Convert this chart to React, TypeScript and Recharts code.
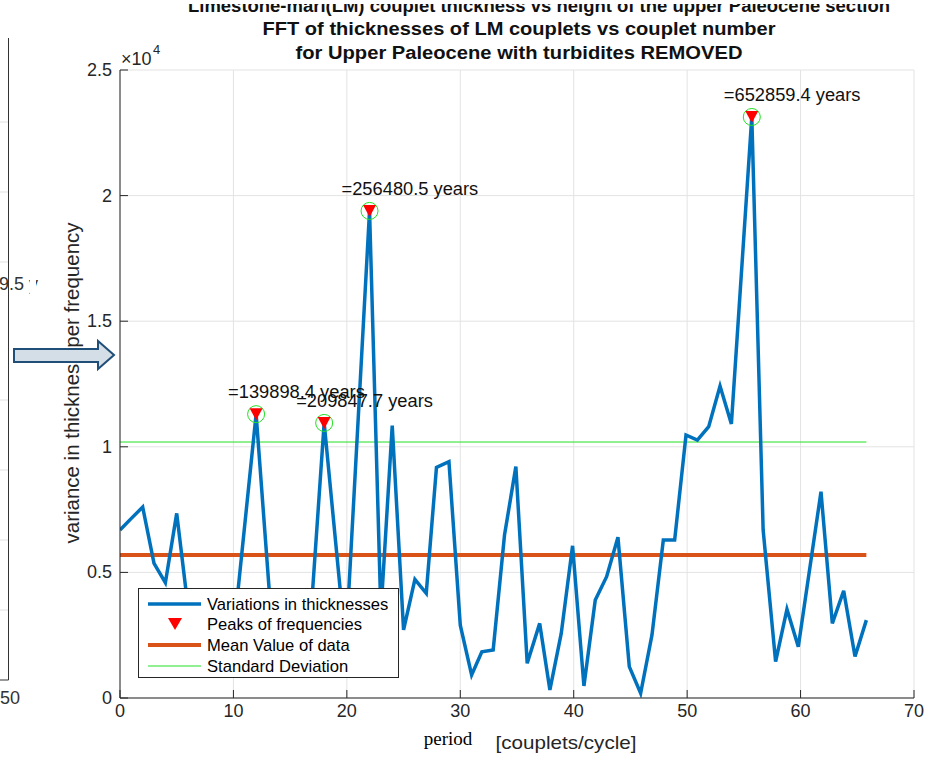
import React from 'react';
import {
  ComposedChart,
  Line,
  Scatter,
  XAxis,
  YAxis,
  CartesianGrid,
  Legend,
} from 'recharts';

// Period (couplets/cycle) and variance of each FFT sample
const periods = [
  0, 1, 2, 3, 4, 5, 6, 7, 8, 9, 10, 12, 13.4, 14.5, 15.5, 16.5, 18, 19.9, 22, 23,
  24, 25, 26, 27, 27.9, 29, 30, 31, 31.9, 32.9, 33.9, 34.9, 35.9, 37, 37.9, 38.9,
  39.9, 40.9, 41.9, 42.9, 43.9, 44.9, 45.9, 46.9, 47.9, 48.9, 49.9, 50.9, 51.9,
  52.9, 53.9, 55.7, 56.7, 57.8, 58.8, 59.8, 61.8, 62.8, 63.8, 64.8, 65.8,
];
const variance = [
  6690, 7150, 7600, 5360, 4590, 7350, 3590, 1900, 2600, 1800, 2500, 11300, 2800,
  1800, 3000, 1150, 10950, 2030, 19390, 3400, 10840, 2710, 4720, 4170, 9180, 9410,
  2900, 920, 1840, 1910, 6490, 9210, 1380, 2970, 320, 2570, 6060, 480, 3900, 4830,
  6400, 1250, 190, 2510, 6290, 6290, 10470, 10270, 10800, 12420, 10910, 23130, 6690,
  1450, 3530, 2040, 8210, 2970, 4270, 1650, 3100,
];

// Detected peaks and their periods in years
const peakPeriods = [12, 18, 22, 55.7];
const peakVariance = [11300, 10950, 19390, 23130];
const peakLabels = ['=139898.4 years', '=209847.7 years', '=256480.5 years', '=652859.4 years'];

const meanValue = 5690;
const stdDevValue = 10190;
const firstPeriod = 0;
const lastPeriod = 65.8;

const xTicks = [0, 10, 20, 30, 40, 50, 60, 70];
const yTicks = [0, 5000, 10000, 15000, 20000, 25000];

const seriesData = periods.map((p, i) => ({ x: p, v: variance[i] }));
const peakData = peakPeriods.map((p, i) => ({ x: p, v: peakVariance[i], label: peakLabels[i] }));
const meanData = [
  { x: firstPeriod, v: meanValue },
  { x: lastPeriod, v: meanValue },
];
const stdData = [
  { x: firstPeriod, v: stdDevValue },
  { x: lastPeriod, v: stdDevValue },
];

const FONT = '"Liberation Sans", Arial, Helvetica, sans-serif';
const AXIS = '#262626';
const BLUE = '#0072BD';
const ORANGE = '#D95319';
const GREEN = '#22E022';

const XTick = (props: any) => {
  const { x, y, payload } = props;
  return (
    <g>
      <line x1={x} x2={x} y1={y} y2={y - 8} stroke={AXIS} strokeWidth={1} />
      <text x={x} y={y + 19} textAnchor="middle" fontFamily={FONT} fontSize={18} fill={AXIS}>
        {payload.value}
      </text>
    </g>
  );
};

const YTick = (props: any) => {
  const { x, y, payload } = props;
  return (
    <g>
      <line x1={x} x2={x + 8} y1={y} y2={y} stroke={AXIS} strokeWidth={1} />
      <text x={x - 8} y={y + 6} textAnchor="end" fontFamily={FONT} fontSize={18} fill={AXIS}>
        {String(payload.value / 10000)}
      </text>
    </g>
  );
};

const PeakShape = (props: any) => {
  const { cx, cy, payload } = props;
  return (
    <g>
      <circle cx={cx} cy={cy} r={8.5} fill="none" stroke={GREEN} strokeWidth={1} />
      <path d={`M${cx - 6.5},${cy - 6} L${cx + 6.5},${cy - 6} L${cx},${cy + 6} Z`} fill="#FF0000" />
      <text x={cx - 28} y={cy - 16} fontFamily={FONT} fontSize={18.3} fill="#111">
        {payload.label}
      </text>
    </g>
  );
};

const LegendBox = () => {
  const rows = [
    { y: 15, text: 'Variations in thicknesses' },
    { y: 35, text: 'Peaks of frequencies' },
    { y: 56, text: 'Mean Value of data' },
    { y: 77, text: 'Standard Deviation' },
  ];
  return (
    <div
      style={{
        width: 261,
        height: 90,
        background: '#fff',
        border: `1px solid ${AXIS}`,
        boxSizing: 'border-box',
      }}
    >
      <svg width={259} height={88} style={{ display: 'block' }}>
        <line x1={9} x2={62} y1={rows[0].y} y2={rows[0].y} stroke={BLUE} strokeWidth={3.5} />
        <path d={`M29,${rows[1].y - 6} L43,${rows[1].y - 6} L36,${rows[1].y + 6} Z`} fill="#FF0000" />
        <line x1={9} x2={62} y1={rows[2].y} y2={rows[2].y} stroke={ORANGE} strokeWidth={4} />
        <line x1={9} x2={62} y1={rows[3].y} y2={rows[3].y} stroke={GREEN} strokeWidth={1} />
        {rows.map((r) => (
          <text key={r.text} x={68} y={r.y + 6} fontFamily={FONT} fontSize={16.6} fill="#000">
            {r.text}
          </text>
        ))}
      </svg>
    </div>
  );
};

// faint grid stubs of the neighbouring figure
const stubRows = [122, 192, 262, 400, 470, 540, 610];

export default function App() {
  return (
    <div style={{ position: 'absolute', left: 0, top: 0, width: 941, height: 757, background: '#fff', overflow: 'hidden' }}>
      <ComposedChart
        width={941}
        height={757}
        margin={{ top: 70, right: 27, bottom: 29, left: 60 }}
      >
        <CartesianGrid stroke="#e3e3e3" strokeWidth={1} />
        <XAxis
          type="number"
          dataKey="x"
          domain={[0, 70]}
          ticks={xTicks}
          interval={0}
          height={30}
          tickSize={0}
          tickMargin={0}
          tickLine={false}
          axisLine={{ stroke: AXIS, strokeWidth: 1 }}
          tick={<XTick />}
          allowDataOverflow
        />
        <YAxis
          type="number"
          dataKey="v"
          domain={[0, 25000]}
          ticks={yTicks}
          interval={0}
          width={60}
          tickSize={0}
          tickMargin={0}
          tickLine={false}
          axisLine={{ stroke: AXIS, strokeWidth: 1 }}
          tick={<YTick />}
          allowDataOverflow
        />
        <Line
          data={stdData}
          dataKey="v"
          type="linear"
          stroke={GREEN}
          strokeWidth={1}
          dot={false}
          activeDot={false}
          isAnimationActive={false}
        />
        <Line
          data={meanData}
          dataKey="v"
          type="linear"
          stroke={ORANGE}
          strokeWidth={4}
          dot={false}
          activeDot={false}
          isAnimationActive={false}
        />
        <Line
          data={seriesData}
          dataKey="v"
          type="linear"
          stroke={BLUE}
          strokeWidth={3.5}
          strokeLinejoin="miter"
          dot={false}
          activeDot={false}
          isAnimationActive={false}
        />
        <Scatter data={peakData} dataKey="v" shape={<PeakShape />} isAnimationActive={false} />
        <Legend
          layout="vertical"
          align="center"
          verticalAlign="middle"
          content={<LegendBox />}
          wrapperStyle={{ left: 138, top: 588, width: 261, height: 90 }}
        />
      </ComposedChart>

      <svg
        width={941}
        height={757}
        style={{ position: 'absolute', left: 0, top: 0, pointerEvents: 'none' }}
      >
        {/* neighbouring figure edge on the left */}
        {stubRows.map((y) => (
          <line key={y} x1={0} x2={8} y1={y} y2={y} stroke="#e0e0e0" strokeWidth={1} />
        ))}
        <line x1={8.5} x2={8.5} y1={38} y2={680} stroke="#333" strokeWidth={1} />
        <line x1={0} x2={8.5} y1={680} y2={680} stroke="#333" strokeWidth={1} />
        <text x={0} y={704} fontFamily={FONT} fontSize={18} fill="#333">50</text>
        <text x={-1} y={290} fontFamily={FONT} fontSize={18} fill="#333">9.5 y</text>
        <rect x={30} y={270} width={6} height={26} fill="#fff" />

        {/* heading of the figure above, partly hidden under this one */}
        <text x={539} y={12} textAnchor="middle" fontFamily={FONT} fontWeight="bold" fontSize={18} fill="#111" textLength={702} lengthAdjust="spacingAndGlyphs">
          Limestone-marl(LM) couplet thickness vs height of the upper Paleocene section
        </text>
        <rect x={0} y={0} width={941} height={4} fill="#fff" />

        {/* title */}
        <text x={519} y={35} textAnchor="middle" fontFamily={FONT} fontWeight="bold" fontSize={18} fill="#111" textLength={513} lengthAdjust="spacingAndGlyphs">
          FFT of thicknesses of LM couplets vs couplet number
        </text>
        <text x={519} y={59} textAnchor="middle" fontFamily={FONT} fontWeight="bold" fontSize={18} fill="#111" textLength={447} lengthAdjust="spacingAndGlyphs">
          for Upper Paleocene with turbidites REMOVED
        </text>

        {/* exponent */}
        <text x={121} y={65} fontFamily={FONT} fontSize={18} fill={AXIS}>×10</text>
        <text x={153} y={54} fontFamily={FONT} fontSize={13} fill={AXIS}>4</text>

        {/* y axis label */}
        <text
          transform="translate(79,383) rotate(-90)"
          textAnchor="middle"
          fontFamily={FONT}
          fontSize={19.5}
          fill={AXIS}
          textLength={321}
          lengthAdjust="spacingAndGlyphs"
        >
          variance in thickness per frequency
        </text>

        {/* x axis label */}
        <text x={448} y={745} textAnchor="middle" fontFamily='"Liberation Serif", "Times New Roman", serif' fontSize={19} fill="#000">period</text>
        <text x={566} y={749} textAnchor="middle" fontFamily={FONT} fontSize={19} fill={AXIS} textLength={141} lengthAdjust="spacingAndGlyphs">[couplets/cycle]</text>

        {/* pointer arrow */}
        <path
          d="M14,349 L98,349 L98,341 L114,355 L98,369 L98,362 L14,362 Z"
          fill="#D3DEE6"
          stroke="#1F4E79"
          strokeWidth={2}
        />
      </svg>
    </div>
  );
}
